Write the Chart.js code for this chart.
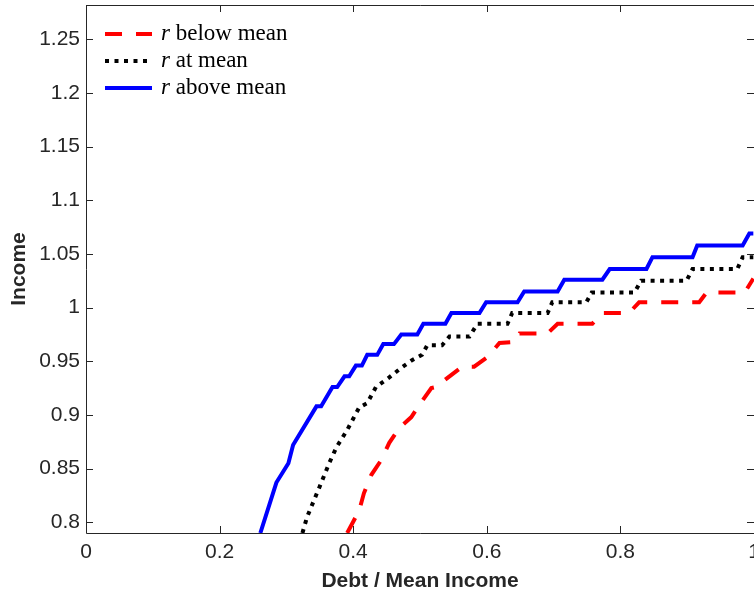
<!DOCTYPE html>
<html lang="en">
<head>
<meta charset="UTF-8">
<title>Income vs Debt / Mean Income</title>
<script src="https://cdn.jsdelivr.net/npm/chart.js"></script>
<style>
  html, body { margin: 0; padding: 0; background: #fff; }
</style>
</head>
<body>
<canvas id="chart" width="754" height="595"></canvas>
<script>
// x = debt / mean income, y = income
const belowX = [0.391, 0.409, 0.416, 0.427, 0.442, 0.454, 0.469, 0.487, 0.502, 0.517, 0.524, 0.536, 0.563, 0.581,
                0.601, 0.619, 0.641, 0.649, 0.691, 0.706, 0.758, 0.773, 0.813, 0.828, 0.918, 0.929, 0.986, 0.999];
const belowY = [0.790, 0.811, 0.827, 0.844, 0.858, 0.874, 0.888, 0.898, 0.912, 0.925, 0.926, 0.932, 0.945, 0.945,
                0.954, 0.967, 0.968, 0.976, 0.976, 0.985, 0.985, 0.995, 0.995, 1.005, 1.005, 1.014, 1.014, 1.027];

const atX = [0.324, 0.331, 0.349, 0.364, 0.375, 0.391, 0.409, 0.421, 0.434, 0.454, 0.472, 0.488, 0.503, 0.511, 0.533, 0.544,
             0.574, 0.586, 0.631, 0.638, 0.691, 0.698, 0.749, 0.757, 0.821, 0.831, 0.899, 0.908, 0.975, 0.983, 0.999];
const atY = [0.790, 0.805, 0.832, 0.855, 0.870, 0.886, 0.907, 0.911, 0.926, 0.935, 0.944, 0.951, 0.956, 0.965, 0.965, 0.973,
             0.973, 0.985, 0.985, 0.995, 0.995, 1.005, 1.005, 1.014, 1.014, 1.025, 1.025, 1.036, 1.036, 1.047, 1.047];

const aboveX = [0.261, 0.285, 0.303, 0.310, 0.345, 0.352, 0.369, 0.376, 0.387, 0.394, 0.404, 0.413, 0.421, 0.436, 0.445, 0.461, 0.472, 0.496,
                0.505, 0.538, 0.547, 0.589, 0.599, 0.646, 0.656, 0.706, 0.716, 0.773, 0.784, 0.839, 0.848, 0.908, 0.915, 0.983, 0.993, 0.999];
const aboveY = [0.790, 0.837, 0.855, 0.872, 0.908, 0.908, 0.926, 0.926, 0.936, 0.936, 0.946, 0.946, 0.956, 0.956, 0.966, 0.966, 0.975, 0.975,
                0.985, 0.985, 0.995, 0.995, 1.005, 1.005, 1.015, 1.015, 1.026, 1.026, 1.036, 1.036, 1.047, 1.047, 1.058, 1.058, 1.069, 1.069];

const seriesNames = ['r below mean', 'r at mean', 'r above mean'];
const xTicks = [0, 0.2, 0.4, 0.6, 0.8, 1];
const yTicks = [0.8, 0.85, 0.9, 0.95, 1, 1.05, 1.1, 1.15, 1.2, 1.25];

const axisColor = '#262626';

function pairs(xs, ys) {
    return xs.map((x, i) => ({ x: x, y: ys[i] }));
}

function fmt(v) {
    return String(+v.toFixed(2));
}

// box on left/top/bottom plus inward ticks on all four sides
const axesBox = {
    id: 'axesBox',
    afterDatasetsDraw(chart) {
        const { ctx, chartArea: a, scales } = chart;
        const len = 7;
        ctx.save();
        ctx.strokeStyle = axisColor;
        ctx.lineWidth = 1;
        ctx.beginPath();
        ctx.moveTo(a.right, a.top + 0.5);
        ctx.lineTo(a.left + 0.5, a.top + 0.5);
        ctx.lineTo(a.left + 0.5, a.bottom + 0.5);
        ctx.lineTo(a.right, a.bottom + 0.5);
        xTicks.forEach(v => {
            const px = Math.round(scales.x.getPixelForValue(v)) + 0.5;
            ctx.moveTo(px, a.bottom);
            ctx.lineTo(px, a.bottom - len);
            ctx.moveTo(px, a.top);
            ctx.lineTo(px, a.top + len);
        });
        yTicks.forEach(v => {
            const py = Math.round(scales.y.getPixelForValue(v)) + 0.5;
            ctx.moveTo(a.left, py);
            ctx.lineTo(a.left + len, py);
            ctx.moveTo(a.right, py);
            ctx.lineTo(a.right - len, py);
        });
        ctx.stroke();
        ctx.restore();
    }
};

// legend drawn inside the plot, top left, italic r
const insideLegend = {
    id: 'insideLegend',
    afterDraw(chart) {
        const { ctx, chartArea: a } = chart;
        ctx.save();
        chart.data.datasets.forEach((ds, i) => {
            const y = a.top + 29 + i * 27;
            const x0 = a.left + 19;
            ctx.strokeStyle = ds.borderColor;
            ctx.lineWidth = ds.borderWidth;
            ctx.setLineDash(ds.borderDash || []);
            ctx.beginPath();
            ctx.moveTo(x0, y);
            ctx.lineTo(x0 + 47, y);
            ctx.stroke();
            ctx.setLineDash([]);

            const words = ds.label.split(' ');
            const sym = words.shift();
            ctx.fillStyle = '#000';
            ctx.textBaseline = 'middle';
            ctx.font = 'italic 23px "Liberation Serif"';
            ctx.fillText(sym, x0 + 56, y);
            const w = ctx.measureText(sym).width;
            ctx.font = '23px "Liberation Serif"';
            ctx.fillText(' ' + words.join(' '), x0 + 56 + w, y);
        });
        ctx.restore();
    }
};

Chart.defaults.font.family = '"Liberation Sans", Arial, sans-serif';
Chart.defaults.color = axisColor;

new Chart(document.getElementById('chart'), {
    type: 'scatter',
    data: {
        datasets: [
            {
                label: seriesNames[0],
                data: pairs(belowX, belowY),
                borderColor: '#ff0000',
                borderWidth: 4,
                borderDash: [17, 14],
                order: 3
            },
            {
                label: seriesNames[1],
                data: pairs(atX, atY),
                borderColor: '#000000',
                borderWidth: 4,
                borderDash: [4, 5.5],
                order: 2
            },
            {
                label: seriesNames[2],
                data: pairs(aboveX, aboveY),
                borderColor: '#0000ff',
                borderWidth: 4,
                order: 1
            }
        ]
    },
    options: {
        responsive: false,
        animation: false,
        showLine: true,
        layout: { padding: { top: 5, right: 0, bottom: 0, left: 0 } },
        datasets: {
            scatter: { pointRadius: 0, pointHoverRadius: 0, tension: 0, fill: false, clip: 0 }
        },
        plugins: {
            legend: { display: false },
            tooltip: { enabled: false }
        },
        scales: {
            x: {
                type: 'linear',
                min: 0,
                max: 1,
                grid: { display: false, drawTicks: false },
                border: { display: false },
                afterBuildTicks: s => { s.ticks = xTicks.map(v => ({ value: v })); },
                afterFit: s => { s.height = 62; s.paddingLeft = 0; s.paddingRight = 0; },
                ticks: {
                    font: { size: 21 },
                    color: axisColor,
                    padding: 7,
                    autoSkip: false,
                    maxRotation: 0,
                    callback: v => fmt(v)
                },
                title: {
                    display: true,
                    text: 'Debt / Mean Income',
                    color: axisColor,
                    font: { size: 21, weight: 'bold' },
                    padding: { top: 0, bottom: 1 }
                }
            },
            y: {
                type: 'linear',
                min: 0.79,
                max: 1.282,
                grid: { display: false, drawTicks: false },
                border: { display: false },
                afterBuildTicks: s => { s.ticks = yTicks.map(v => ({ value: v })); },
                afterFit: s => { s.width = 86; s.paddingTop = 0; s.paddingBottom = 0; },
                ticks: {
                    font: { size: 21 },
                    color: axisColor,
                    padding: 6,
                    autoSkip: false,
                    callback: v => fmt(v)
                },
                title: {
                    display: true,
                    text: 'Income',
                    color: axisColor,
                    font: { size: 21, weight: 'bold' },
                    padding: { top: 7, bottom: 0 }
                }
            }
        }
    },
    plugins: [axesBox, insideLegend]
});
</script>
</body>
</html>
